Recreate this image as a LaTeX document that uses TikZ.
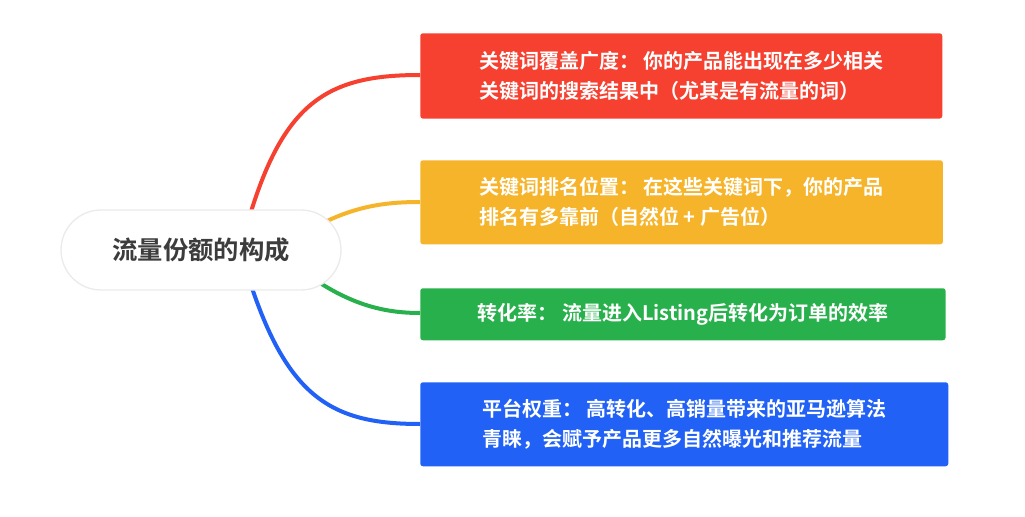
\documentclass[tikz,border=0pt]{standalone}
\usepackage{fontspec}
\newfontfamily\cjk{Noto Sans CJK SC}[BoldFont={Noto Sans CJK SC Bold}]
\usetikzlibrary{positioning}
\definecolor{cred}{RGB}{246,64,48}
\definecolor{corange}{RGB}{246,180,42}
\definecolor{cgreen}{RGB}{40,176,76}
\definecolor{cblue}{RGB}{33,97,246}
\definecolor{cgray}{RGB}{60,60,60}
\tikzset{
	topic/.style={
		rectangle,
		align=left,
		anchor=north west,
		text=white,
		font=\cjk\bfseries\fontsize{15}{22.5}\selectfont,
		inner xsep=20pt,
		rounded corners=2pt
	},
	branch/.style={line width=3pt}
}
\begin{document}
\begin{tikzpicture}[x=0.75pt,y=-0.75pt]
	\useasboundingbox (0,0) rectangle (1025,517);
	% branches
	\draw[branch, cred] (250,215) .. controls (285,100) and (330,75) .. (420,75);
	\draw[branch, corange] (325,222) .. controls (360,205) and (390,202) .. (420,202);
	\draw[branch, cgreen] (320,283) .. controls (355,305) and (385,313) .. (420,313);
	\draw[branch, cblue] (252,288) .. controls (290,400) and (335,424) .. (420,424);
	% root
	\node[draw=black!8, line width=1pt, fill=white, rounded corners=30pt, minimum width=210pt, minimum height=60pt, font=\cjk\bfseries\fontsize{19}{23}\selectfont, text=cgray] (Root) at (201,250) {流量份额的构成};
	% topics
	\node[topic, fill=cred, minimum width=391.5pt, minimum height=64pt] (Cover) at (420,33) {关键词覆盖广度： 你的产品能出现在多少相关\\关键词的搜索结果中（尤其是有流量的词）};
	\node[topic, fill=corange, minimum width=392pt, minimum height=63pt] (Rank) at (420,160) {关键词排名位置： 在这些关键词下，你的产品\\排名有多靠前（自然位 + 广告位）};
	\node[topic, fill=cgreen, minimum width=394pt, minimum height=39pt] (Conv) at (420,288) {转化率： 流量进入Listing后转化为订单的效率};
	\node[topic, fill=cblue, minimum width=396pt, minimum height=63pt] (Weight) at (420,382) {平台权重： 高转化、高销量带来的亚马逊算法\\青睐，会赋予产品更多自然曝光和推荐流量};
\end{tikzpicture}
\end{document}
